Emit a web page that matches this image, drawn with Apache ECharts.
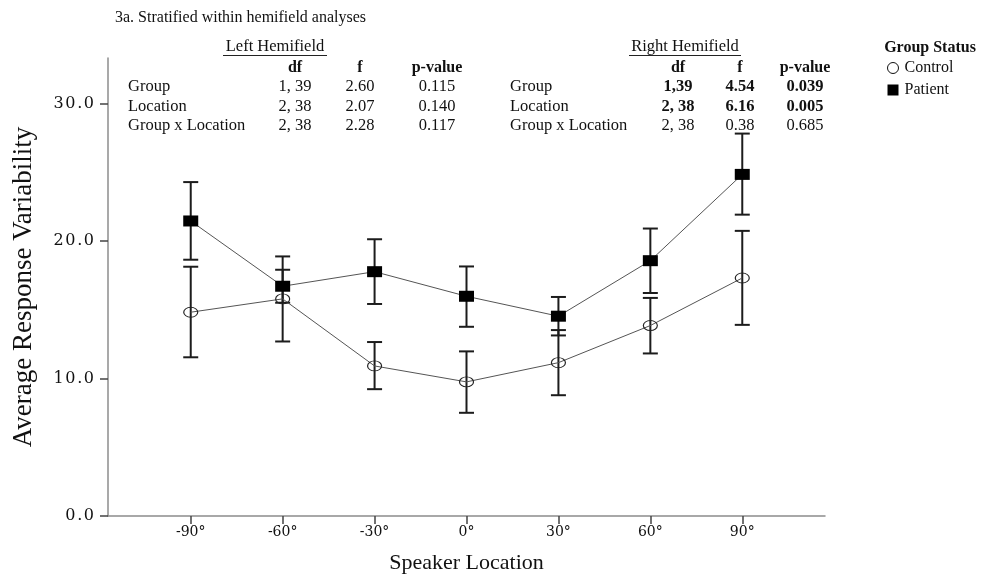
<!DOCTYPE html>
<html>
<head>
<meta charset="utf-8">
<script src="https://cdn.jsdelivr.net/npm/echarts@6/dist/echarts.min.js"></script>
<style>
html,body{margin:0;padding:0;background:#fff;}
#chart{width:984px;height:579px;}
</style>
</head>
<body>
<div id="chart"></div>
<script>
// ---- Data ----
var locations = [-90, -60, -30, 0, 30, 60, 90];
var xTickLabels = ['-90°', '-60°', '-30°', '0°', '30°', '60°', '90°'];
var yTicks = [0, 10, 20, 30];

var controlMean = [14.83, 15.80, 10.92, 9.76, 11.16, 13.86, 17.32];
var controlLow  = [11.55, 12.70, 9.23, 7.51, 8.79, 11.83, 13.91];
var controlHigh = [18.14, 18.89, 12.66, 11.98, 13.53, 15.87, 20.75];

var patientMean = [21.47, 16.72, 17.78, 15.99, 14.54, 18.58, 24.86];
var patientLow  = [18.65, 15.52, 15.43, 13.77, 13.14, 16.23, 21.93];
var patientHigh = [24.30, 17.92, 20.14, 18.16, 15.94, 20.92, 27.83];

var tableColumns = ['df', 'f', 'p-value'];
var tableRowNames = ['Group', 'Location', 'Group x Location'];
var leftTable = [['1, 39', '2.60', '0.115'], ['2, 38', '2.07', '0.140'], ['2, 38', '2.28', '0.117']];
var rightTable = [['1,39', '4.54', '0.039'], ['2, 38', '6.16', '0.005'], ['2, 38', '0.38', '0.685']];
var rightBold = [true, true, false];

// ---- Build ----
var SERIF = '"Liberation Serif", "Times New Roman", serif';
var chart = echarts.init(document.getElementById('chart'), null, {renderer: 'canvas'});

function pairs(xs, ys) { return xs.map(function (x, i) { return [x, ys[i]]; }); }
function triples(xs, lo, hi) { return xs.map(function (x, i) { return [x, lo[i], hi[i]]; }); }

function errRender(params, api) {
  var x = api.value(0), lo = api.value(1), hi = api.value(2);
  var pl = api.coord([x, lo]), ph = api.coord([x, hi]);
  var hw = 7.5;
  var st = {stroke: '#1c1c1c', lineWidth: 2};
  return {
    type: 'group',
    children: [
      {type: 'line', shape: {x1: pl[0], y1: pl[1], x2: ph[0], y2: ph[1]}, style: st},
      {type: 'line', shape: {x1: pl[0] - hw, y1: pl[1], x2: pl[0] + hw, y2: pl[1]}, style: st},
      {type: 'line', shape: {x1: ph[0] - hw, y1: ph[1], x2: ph[0] + hw, y2: ph[1]}, style: st}
    ]
  };
}

function txt(text, x, y, size, bold, align) {
  return {
    type: 'text', x: x, y: y, silent: true,
    style: {
      text: text,
      font: (bold ? 'bold ' : '') + size + 'px ' + SERIF,
      fill: '#111',
      align: align || 'center',
      verticalAlign: 'middle'
    }
  };
}

var graphics = [];
graphics.push(txt('3a. Stratified within hemifield analyses', 115, 18, 16, false, 'left'));
// Left table
graphics.push(txt('Left Hemifield', 275, 47, 16.5, false));
graphics.push({type: 'line', silent: true, shape: {x1: 223, y1: 55.5, x2: 327, y2: 55.5}, style: {stroke: '#222', lineWidth: 1}});
var lcols = [295, 360, 437];
var rcols = [678, 740, 805];
tableColumns.forEach(function (c, j) {
  graphics.push(txt(c, lcols[j], 68, 16, true));
  graphics.push(txt(c, rcols[j], 68, 16, true));
});
var rowsY = [87, 107, 126];
tableRowNames.forEach(function (r, i) {
  graphics.push(txt(r, 128, rowsY[i], 16.5, false, 'left'));
  graphics.push(txt(r, 510, rowsY[i], 16.5, false, 'left'));
  leftTable[i].forEach(function (v, j) { graphics.push(txt(v, lcols[j], rowsY[i], 16.5, false)); });
  rightTable[i].forEach(function (v, j) { graphics.push(txt(v, rcols[j], rowsY[i], 16.5, rightBold[i])); });
});
// Right table header
graphics.push(txt('Right Hemifield', 685, 47, 16.5, false));
graphics.push({type: 'line', silent: true, shape: {x1: 629, y1: 55.5, x2: 741, y2: 55.5}, style: {stroke: '#222', lineWidth: 1}});
// Legend title
graphics.push(txt('Group Status', 930, 48, 16, true));

var option = {
  backgroundColor: '#fff',
  animation: false,
  textStyle: {fontFamily: SERIF},
  grid: {left: 108, right: 159, top: 58, bottom: 61, containLabel: false},
  legend: {
    left: 887, top: 60, orient: 'vertical', padding: 0,
    itemWidth: 11, itemHeight: 11, itemGap: 6,
    textStyle: {fontFamily: SERIF, fontSize: 16, color: '#111', padding: [0, 0, 0, 1]},
    data: [
      {name: 'Control', icon: 'circle', itemStyle: {color: '#fff', borderColor: '#111', borderWidth: 1}},
      {name: 'Patient', icon: 'rect', itemStyle: {color: '#000', borderWidth: 0}}
    ]
  },
  xAxis: {
    type: 'value', min: -117, max: 117,
    name: 'Speaker Location', nameLocation: 'middle', nameGap: 36,
    nameTextStyle: {fontFamily: SERIF, fontSize: 22, color: '#111'},
    splitLine: {show: false},
    axisLine: {onZero: false, lineStyle: {color: '#8c8c8c', width: 1.5}},
    axisTick: {customValues: locations, length: 8, lineStyle: {color: '#444', width: 1.5}},
    axisLabel: {
      customValues: locations, margin: 9,
      fontFamily: '"DejaVu Serif", serif', fontSize: 14, color: '#111',
      formatter: function (v) { var i = locations.indexOf(v); return i >= 0 ? xTickLabels[i] : ''; }
    }
  },
  yAxis: {
    type: 'value', min: 0, max: 33.33,
    name: 'Average Response Variability', nameLocation: 'middle', nameGap: 71, nameRotate: 90,
    nameTextStyle: {fontFamily: SERIF, fontSize: 27, color: '#111'},
    splitLine: {show: false},
    axisLine: {show: true, onZero: false, lineStyle: {color: '#8c8c8c', width: 1.5}},
    axisTick: {show: true, customValues: yTicks, length: 8, lineStyle: {color: '#444', width: 1.5}},
    axisLabel: {
      customValues: yTicks, margin: 14,
      fontFamily: '"DejaVu Serif", serif', fontSize: 16, color: '#111',
      formatter: function (v) { return v.toFixed(1).split('').join('\u200A'); }
    }
  },
  graphic: graphics,
  series: [
    {
      name: 'Control', type: 'line', data: pairs(locations, controlMean),
      symbol: 'circle', symbolSize: [14, 10], z: 3,
      lineStyle: {color: '#555', width: 1},
      itemStyle: {color: 'rgba(255,255,255,0)', borderColor: '#222', borderWidth: 1}
    },
    {
      name: 'Patient', type: 'line', data: pairs(locations, patientMean),
      symbol: 'rect', symbolSize: [15, 11], z: 4,
      lineStyle: {color: '#555', width: 1},
      itemStyle: {color: '#000', borderWidth: 0}
    },
    {
      name: 'Control err', type: 'custom', renderItem: errRender, z: 2,
      encode: {x: 0, y: [1, 2]}, data: triples(locations, controlLow, controlHigh)
    },
    {
      name: 'Patient err', type: 'custom', renderItem: errRender, z: 2,
      encode: {x: 0, y: [1, 2]}, data: triples(locations, patientLow, patientHigh)
    }
  ]
};
chart.setOption(option);
</script>
</body>
</html>
